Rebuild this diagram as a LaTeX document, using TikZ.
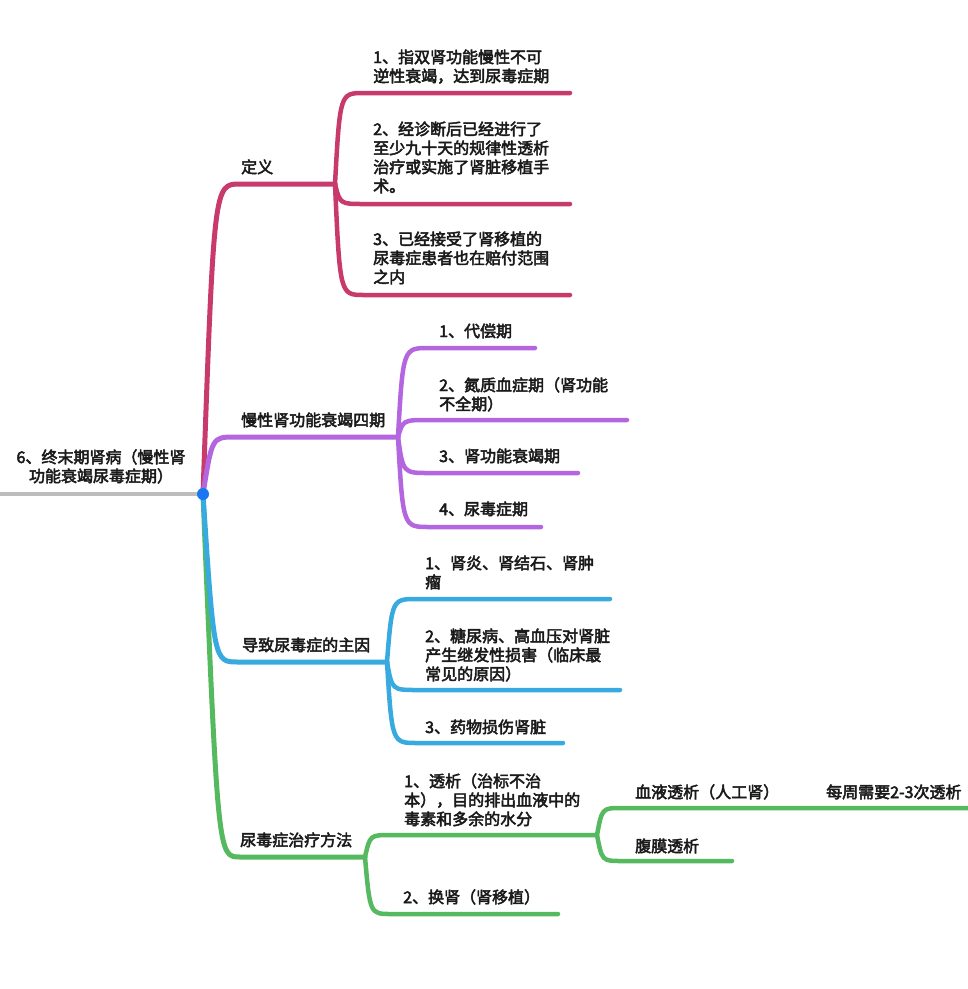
\documentclass[tikz,border=0pt]{standalone}
\usepackage{fontspec}
\setmainfont{Noto Sans CJK SC}[FakeBold=3]
\definecolor{redc}{HTML}{C83A6C}
\definecolor{purc}{HTML}{B466E0}
\definecolor{bluc}{HTML}{38AAE0}
\definecolor{grnc}{HTML}{55B95F}
\definecolor{grayc}{HTML}{BDBDBD}
\definecolor{dotc}{HTML}{1877F2}
\definecolor{txtc}{HTML}{1A1A1A}
\begin{document}
\begin{tikzpicture}[x=1pt,y=-1pt,
  br/.style={line width=5pt, line cap=round, line join=round},
  sub/.style={line width=4.5pt, line cap=round, line join=round},
  txt/.style={anchor=base west, inner sep=0pt, align=left, font=\fontsize{16}{19}\selectfont, text=txtc},
  roottxt/.style={anchor=base, inner sep=0pt, align=center, font=\fontsize{16}{19}\selectfont, text=txtc}]
\useasboundingbox (0,0) rectangle (968,989);
\fill[white] (0,0) rectangle (968,989);

% coordinates
\coordinate (root) at (203,494);
\coordinate (left) at (0,494);
% red
\coordinate (rA) at (240,184);
\coordinate (R) at (335,184);
\coordinate (r1a) at (364,93);   \coordinate (r1) at (570,93);
\coordinate (r2a) at (364,204);  \coordinate (r2) at (570,204);
\coordinate (r3a) at (364,295);  \coordinate (r3) at (570,295);
% purple
\coordinate (pA) at (235,437);
\coordinate (P) at (398,437);
\coordinate (p1a) at (429,348);  \coordinate (p1e) at (535,348);
\coordinate (p2a) at (429,420);  \coordinate (p2e) at (627,420);
\coordinate (p3a) at (429,473);  \coordinate (p3e) at (578,473);
\coordinate (p4a) at (429,527);  \coordinate (p4e) at (541,527);
% blue
\coordinate (bA) at (238,662);
\coordinate (B) at (387,662);
\coordinate (b1a) at (417,599);  \coordinate (b1e) at (610,599);
\coordinate (b2a) at (417,690);  \coordinate (b2e) at (620,690);
\coordinate (b3a) at (417,743);  \coordinate (b3e) at (563,743);
% green
\coordinate (gA) at (240,857);
\coordinate (G) at (365,857);
\coordinate (g1a) at (391,835);  \coordinate (G2) at (597,835);
\coordinate (g2a) at (391,914);  \coordinate (g2e) at (558,914);
\coordinate (h1a) at (622,808);  \coordinate (h1e) at (810,808);
\coordinate (h2e) at (975,808);
\coordinate (h3a) at (622,861);  \coordinate (h3e) at (732,861);

% root line
\draw[grayc, line width=4pt] (left) -- (root);

% green branch
\draw[grnc, br] (root) .. controls (218,857) .. (gA) -- (G);
\draw[grnc, sub] (G) .. controls (370,835) .. (g1a) -- (G2);
\draw[grnc, sub] (G) .. controls (370,914) .. (g2a) -- (g2e);
\draw[grnc, sub] (G2) .. controls (602,808) .. (h1a) -- (h1e) -- (h2e);
\draw[grnc, sub] (G2) .. controls (602,861) .. (h3a) -- (h3e);

% blue branch
\draw[bluc, br] (root) .. controls (214,662) .. (bA) -- (B);
\draw[bluc, sub] (B) .. controls (392,599) .. (b1a) -- (b1e);
\draw[bluc, sub] (B) .. controls (392,690) .. (b2a) -- (b2e);
\draw[bluc, sub] (B) .. controls (392,743) .. (b3a) -- (b3e);

% red branch
\draw[redc, br] (root) .. controls (214,184) .. (rA) -- (R);
\draw[redc, sub] (R) .. controls (340,93) .. (r1a) -- (r1);
\draw[redc, sub] (R) .. controls (340,204) .. (r2a) -- (r2);
\draw[redc, sub] (R) .. controls (340,295) .. (r3a) -- (r3);

% purple branch
\draw[purc, br] (root) .. controls (212,437) .. (pA) -- (P);
\draw[purc, sub] (P) .. controls (403,348) .. (p1a) -- (p1e);
\draw[purc, sub] (P) .. controls (403,420) .. (p2a) -- (p2e);
\draw[purc, sub] (P) .. controls (403,473) .. (p3a) -- (p3e);
\draw[purc, sub] (P) .. controls (403,527) .. (p4a) -- (p4e);

% root dot
\node[circle, fill=dotc, minimum size=12pt, inner sep=0pt] (rootdot) at (root) {};

% texts (anchor = baseline of last line)
\node[roottxt] (rt) at (101,482) {6、终末期肾病（慢性肾\\功能衰竭尿毒症期）};

\node[txt] (tdef) at (241,173) {定义};
\node[txt] (d1) at (373,82) {1、指双肾功能慢性不可\\逆性衰竭，达到尿毒症期};
\node[txt] (d2) at (373,192) {2、经诊断后已经进行了\\至少九十天的规律性透析\\治疗或实施了肾脏移植手\\术。};
\node[txt] (d3) at (373,283) {3、已经接受了肾移植的\\尿毒症患者也在赔付范围\\之内};

\node[txt] (tstage) at (241,426) {慢性肾功能衰竭四期};
\node[txt] (s1) at (439,337) {1、代偿期};
\node[txt] (s2) at (439,410) {2、氮质血症期（肾功能\\不全期）};
\node[txt] (s3) at (439,462) {3、肾功能衰竭期};
\node[txt] (s4) at (439,515) {4、尿毒症期};

\node[txt] (tcause) at (242,651) {导致尿毒症的主因};
\node[txt] (c1) at (425,588) {1、肾炎、肾结石、肾肿\\瘤};
\node[txt] (c2) at (425,680) {2、糖尿病、高血压对肾脏\\产生继发性损害（临床最\\常见的原因）};
\node[txt] (c3) at (425,733) {3、药物损伤肾脏};

\node[txt] (ttreat) at (240,846) {尿毒症治疗方法};
\node[txt] (m1) at (404,825) {1、透析（治标不治\\本），目的排出血液中的\\毒素和多余的水分};
\node[txt] (hd) at (635,798) {血液透析（人工肾）};
\node[txt] (freq) at (826,798) {每周需要2-3次透析};
\node[txt] (pd) at (635,852) {腹膜透析};
\node[txt] (m2) at (403,903) {2、换肾（肾移植）};
\end{tikzpicture}
\end{document}
